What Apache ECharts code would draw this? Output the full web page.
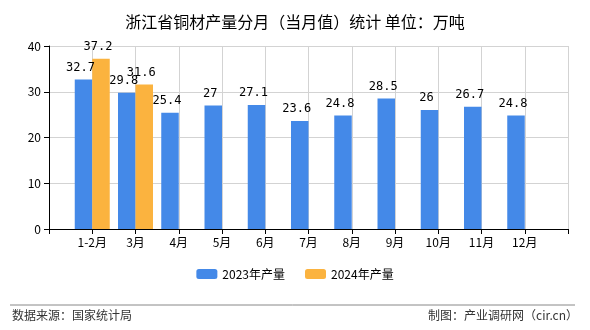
<!DOCTYPE html>
<html><head><meta charset="utf-8">
<script src="https://cdn.jsdelivr.net/npm/echarts@6/dist/echarts.min.js"></script>
<style>html,body{margin:0;padding:0;background:#fff}#c{width:590px;height:330px}</style>
</head><body><div id="c"></div>
<script>
var categories = ['', '1-2月', '3月', '4月', '5月', '6月', '7月', '8月', '9月', '10月', '11月', '12月', ''];
var values2023 = [null, 32.7, 29.8, 25.4, 27, 27.1, 23.6, 24.8, 28.5, 26, 26.7, 24.8, null];
var values2024 = [null, 37.2, 31.6, null, null, null, null, null, null, null, null, null, null];
var yTicks = [0, 10, 20, 30, 40];
var font = '"Noto Sans CJK SC", sans-serif';
var chart = echarts.init(document.getElementById('c'));
chart.setOption({
  animation: false,
  title: {text: '浙江省铜材产量分月（当月值）统计 单位：万吨', left: 'center', top: 9,
    textStyle: {fontSize: 16, fontWeight: 'normal', color: '#000', fontFamily: font}},
  legend: {bottom: 45, left: 'center', itemWidth: 21, itemHeight: 10, itemGap: 20,
    textStyle: {fontSize: 12, color: '#000', fontFamily: font},
    data: ['2023年产量', '2024年产量']},
  grid: {left: 49, right: 22, top: 46, bottom: 101},
  xAxis: {type: 'category', data: categories, boundaryGap: false,
    axisLine: {lineStyle: {color: '#000'}},
    axisTick: {show: true, alignWithLabel: true, lineStyle: {color: '#000'}},
    axisLabel: {color: '#000', fontSize: 12, interval: 0, fontFamily: font, margin: 7},
    splitLine: {show: true, lineStyle: {color: '#d3d3d3'}}},
  yAxis: {type: 'value', min: yTicks[0], max: yTicks[yTicks.length - 1], interval: 10,
    axisLine: {show: true, lineStyle: {color: '#000'}},
    axisTick: {show: true, lineStyle: {color: '#000'}},
    axisLabel: {color: '#000', fontSize: 12, fontFamily: font},
    splitLine: {show: true, lineStyle: {color: '#d3d3d3'}}},
  series: [
    {name: '2023年产量', type: 'bar', data: values2023, barWidth: 17.5, barGap: '0%',
      itemStyle: {color: '#4489E8'},
      label: {show: true, position: 'top', distance: 6, offset: [-3, 0], color: '#000', fontSize: 12, fontFamily: 'monospace'}},
    {name: '2024年产量', type: 'bar', data: values2024, barWidth: 17.5, barGap: '0%',
      itemStyle: {color: '#FBB33F'},
      label: {show: true, position: 'top', distance: 6, offset: [-3, 0], color: '#000', fontSize: 12, fontFamily: 'monospace'}}
  ],
  graphic: [
    {type: 'line', shape: {x1: 10, y1: 305, x2: 575, y2: 305}, style: {stroke: '#888', lineWidth: 1}},
    {type: 'text', left: 12, top: 309, style: {text: '数据来源：国家统计局', fill: '#333', font: '12px ' + font}},
    {type: 'text', right: 12, top: 309, style: {text: '制图：产业调研网（cir.cn）', fill: '#333', font: '12px ' + font}}
  ]
});
</script></body></html>
